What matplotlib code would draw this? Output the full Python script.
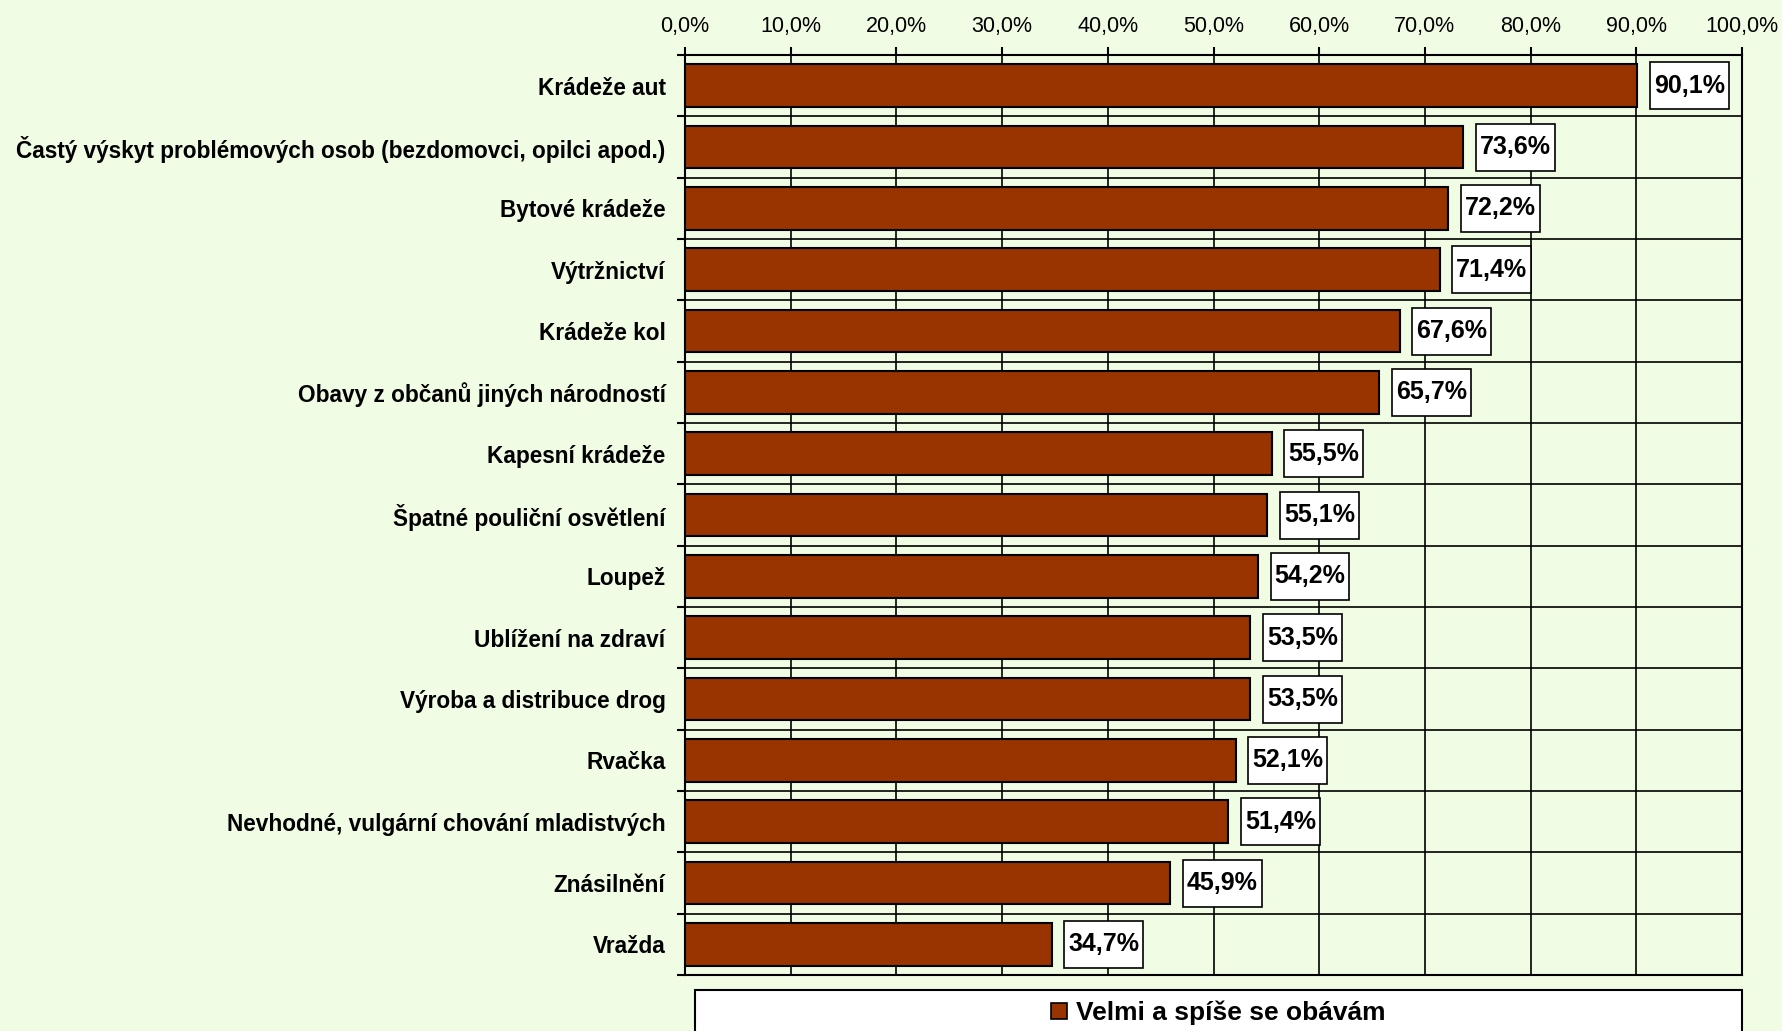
import matplotlib.pyplot as plt
from matplotlib.patches import Patch, Rectangle
from matplotlib.path import Path
import numpy as np

# data
categories = ["Krádeže aut",
              "Častý výskyt problémových osob (bezdomovci, opilci apod.)",
              "Bytové krádeže",
              "Výtržnictví",
              "Krádeže kol",
              "Obavy z občanů jiných národností",
              "Kapesní krádeže",
              "Špatné pouliční osvětlení",
              "Loupež",
              "Ublížení na zdraví",
              "Výroba a distribuce drog",
              "Rvačka",
              "Nevhodné, vulgární chování mladistvých",
              "Znásilnění",
              "Vražda"]
values = [90.1, 73.6, 72.2, 71.4, 67.6, 65.7, 55.5, 55.1, 54.2, 53.5, 53.5, 52.1, 51.4, 45.9, 34.7]
series_name = "Velmi a spíše se obávám"
xticks = np.arange(0, 101, 10)

bg = "#F0FCE4"
bar_color = "#993300"

plt.rcParams['font.family'] = ['Liberation Sans', 'DejaVu Sans']


# label box: narrow at the sides, taller above and below the text
def tallbox(x0, y0, width, height, mutation_size):
    px = 0.16 * mutation_size
    py = 0.46 * mutation_size
    x0, x1 = x0 - px, x0 + width + px
    y0, y1 = y0 - py, y0 + height + py
    return Path([(x0, y0), (x1, y0), (x1, y1), (x0, y1), (x0, y0)], closed=True)


fig = plt.figure(figsize=(17.82, 10.31), dpi=100, facecolor=bg)
ax = fig.add_axes([685/1782, 1 - 975/1031, (1742 - 685)/1782, (975 - 55)/1031])
ax.set_facecolor(bg)

y = np.arange(len(categories))
ax.barh(y, values, height=0.7, color=bar_color, edgecolor="black", linewidth=1.5, zorder=3)

for yi, v in zip(y, values):
    ax.annotate(f"{v:.1f}%".replace(".", ","), xy=(v, yi), xytext=(12, 0),
                textcoords="offset points", va="center", ha="left",
                fontsize=18, fontweight="bold",
                bbox=dict(boxstyle=tallbox, fc="white", ec="black", lw=1.2),
                zorder=4)

ax.set_xlim(0, 100)
ax.set_ylim(len(categories) - 0.5, -0.5)
ax.xaxis.tick_top()
ax.set_xticks(xticks)
ax.set_xticklabels([f"{t:.1f}%".replace(".", ",") for t in xticks], fontsize=15.5)
ax.tick_params(axis="x", direction="out", length=6, width=1.5, pad=7)

ax.set_yticks(y)
ax.set_yticklabels(categories, fontsize=16.3, fontweight="bold")
ax.tick_params(axis="y", which="major", length=0, pad=14)
ax.set_yticks(np.arange(-0.5, len(categories)), minor=True)
ax.tick_params(axis="y", which="minor", direction="out", length=6, width=1.5)

ax.grid(axis="x", which="major", color="black", linewidth=1.2, zorder=1)
ax.grid(axis="y", which="minor", color="black", linewidth=1.2, zorder=1)
ax.set_axisbelow(True)
for s in ax.spines.values():
    s.set_linewidth(1.5)

# legend box at the bottom, running off the figure edge
fig.patches.append(Rectangle((695/1782, -0.05), (1742 - 695)/1782, 0.05 + 1 - 990/1031,
                             transform=fig.transFigure, fc="white", ec="black", lw=1.5))
fig.legend(handles=[Patch(fc=bar_color, ec="black", lw=1.2, label=series_name)],
           loc="center", bbox_to_anchor=(1218/1782, 1 - 1013/1031), frameon=False,
           prop={"size": 19, "weight": "bold"}, handlelength=0.6, handleheight=0.6,
           handletextpad=0.35)

plt.savefig("out.png", dpi=100, facecolor=bg)
